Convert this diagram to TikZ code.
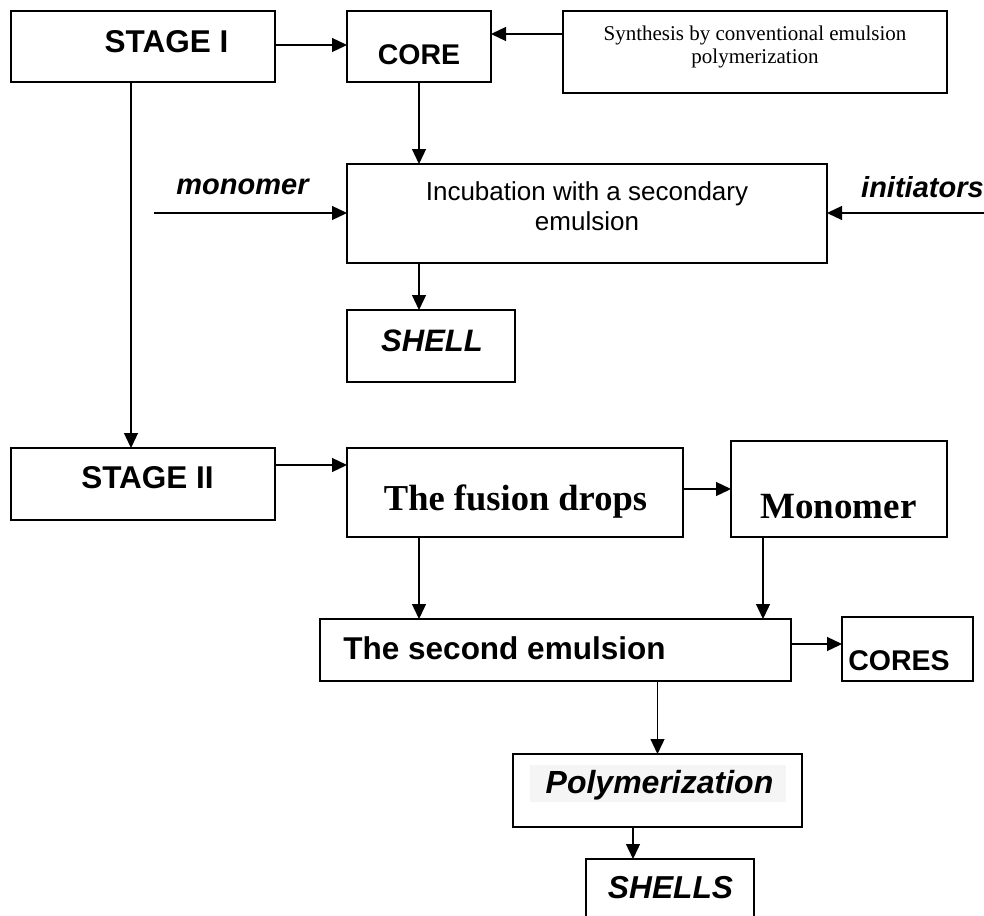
\documentclass[tikz,border=0pt]{standalone}
\usepackage{fontspec}
\setmainfont{Liberation Serif}
\setsansfont{Liberation Sans}
\usetikzlibrary{arrows.meta}
\newcommand\mysb[1]{\sffamily\bfseries\fontsize{#1}{#1}\selectfont}
\newcommand\mysbi[1]{\sffamily\bfseries\itshape\fontsize{#1}{#1}\selectfont}
\newcommand\myrb[1]{\rmfamily\bfseries\fontsize{#1}{#1}\selectfont}
\begin{document}
\begin{tikzpicture}[x=1pt,y=-1pt,
  box/.style={draw, line width=1.8pt, inner sep=0pt, outer sep=0pt},
  arr/.style={line width=1.3pt, -{Triangle[length=15pt,width=14pt]}},
  lbl/.style={anchor=base, inner sep=0pt},
  ]
\clip (0,0) rectangle (984,915);
\fill[white] (0,0) rectangle (984,915);
% boxes
\node[box, minimum width=264pt, minimum height=71pt] (s1) at (143,46.5) {};
\node[box, minimum width=144pt, minimum height=71pt] (core) at (419,46.5) {};
\node[box, minimum width=384pt, minimum height=82pt] (synth) at (755,52) {};
\node[box, minimum width=480pt, minimum height=99pt] (inc) at (587,213.5) {};
\node[box, minimum width=168pt, minimum height=72pt] (shell) at (431,346) {};
\node[box, minimum width=264pt, minimum height=72pt] (s2) at (143,484) {};
\node[box, minimum width=336pt, minimum height=89pt] (fusion) at (515,492.5) {};
\node[box, minimum width=216pt, minimum height=96pt] (mono) at (839,489) {};
\node[box, minimum width=471pt, minimum height=62pt] (second) at (555.5,650) {};
\node[box, minimum width=131pt, minimum height=64pt] (cores) at (907.5,649) {};
\node[box, minimum width=289pt, minimum height=73pt] (poly) at (657.5,790.5) {};
\node[box, minimum width=168pt, minimum height=76pt] (shells) at (670,897) {};
\fill[gray!8] (530,765) rectangle (786,802);
% labels
\node[lbl] (t1) at (166.5,53) {\mysb{31.5}STAGE I};
\node[lbl] (tcore) at (419,65) {\mysb{28.5}CORE};
\node[lbl, align=center, font=\rmfamily\fontsize{21}{23}\selectfont] (tsynth) at (755,64) {Synthesis by conventional emulsion\\polymerization};
\node[lbl, align=center, font=\sffamily\fontsize{26}{30}\selectfont] (tinc) at (587,230) {Incubation with a secondary\\emulsion};
\node[lbl] (tmon) at (242.5,194) {\mysbi{29}monomer};
\node[lbl, anchor=base west] (tini) at (861,197) {\mysbi{29}initiators};
\node[lbl] (tshell) at (432,351) {\mysbi{31}SHELL};
\node[lbl] (t2) at (147.5,488) {\mysb{31.5}STAGE II};
\node[lbl] (tfus) at (515.5,510) {\myrb{36.5}The fusion drops};
\node[lbl] (tmono) at (838.5,518) {\myrb{37}Monomer};
\node[lbl] (tsec) at (504.5,659) {\mysb{31.5}The second emulsion};
\node[lbl] (tcores) at (899,670) {\mysb{28.5}CORES};
\node[lbl] (tpoly) at (659.5,793) {\mysbi{32}Polymerization};
\node[lbl] (tshells) at (670.5,898) {\mysbi{31.7}SHELLS};
% free ends
\coordinate (mstart) at (154,213);
\coordinate (istart) at (990,213);
% connectors
\draw[arr] ([yshift=1.5pt]s1.east) -- ([yshift=1.5pt]s1.east -| core.west);
\draw[arr] ([yshift=18pt]synth.west) -- ([yshift=18pt]synth.west -| core.east);
\draw[arr] ([xshift=-12pt]s1.south) -- ([xshift=-12pt]s1.south |- s2.north);
\draw[arr] (core.south) -- (core.south |- inc.north);
\draw[arr] (mstart) -- (mstart -| inc.west);
\draw[arr] (istart) -- (istart -| inc.east);
\draw[arr] ([xshift=-12pt]shell.north |- inc.south) -- ([xshift=-12pt]shell.north);
\draw[arr] ([yshift=19pt]s2.east) -- ([yshift=19pt]s2.east -| fusion.west);
\draw[arr] (fusion.east |- mono.west) -- (mono.west);
\draw[arr] ([xshift=-96pt]fusion.south) -- ([xshift=-96pt]fusion.south |- second.north);
\draw[arr] ([xshift=-76pt]mono.south) -- ([xshift=-76pt]mono.south |- second.north);
\draw[arr] ([yshift=6pt]second.east) -- ([yshift=6pt]second.east -| cores.west);
\draw[arr] (poly.north |- second.south) -- (poly.north);
\draw[arr] ([xshift=-37pt]shells.north |- poly.south) -- ([xshift=-37pt]shells.north);
\end{tikzpicture}
\end{document}
